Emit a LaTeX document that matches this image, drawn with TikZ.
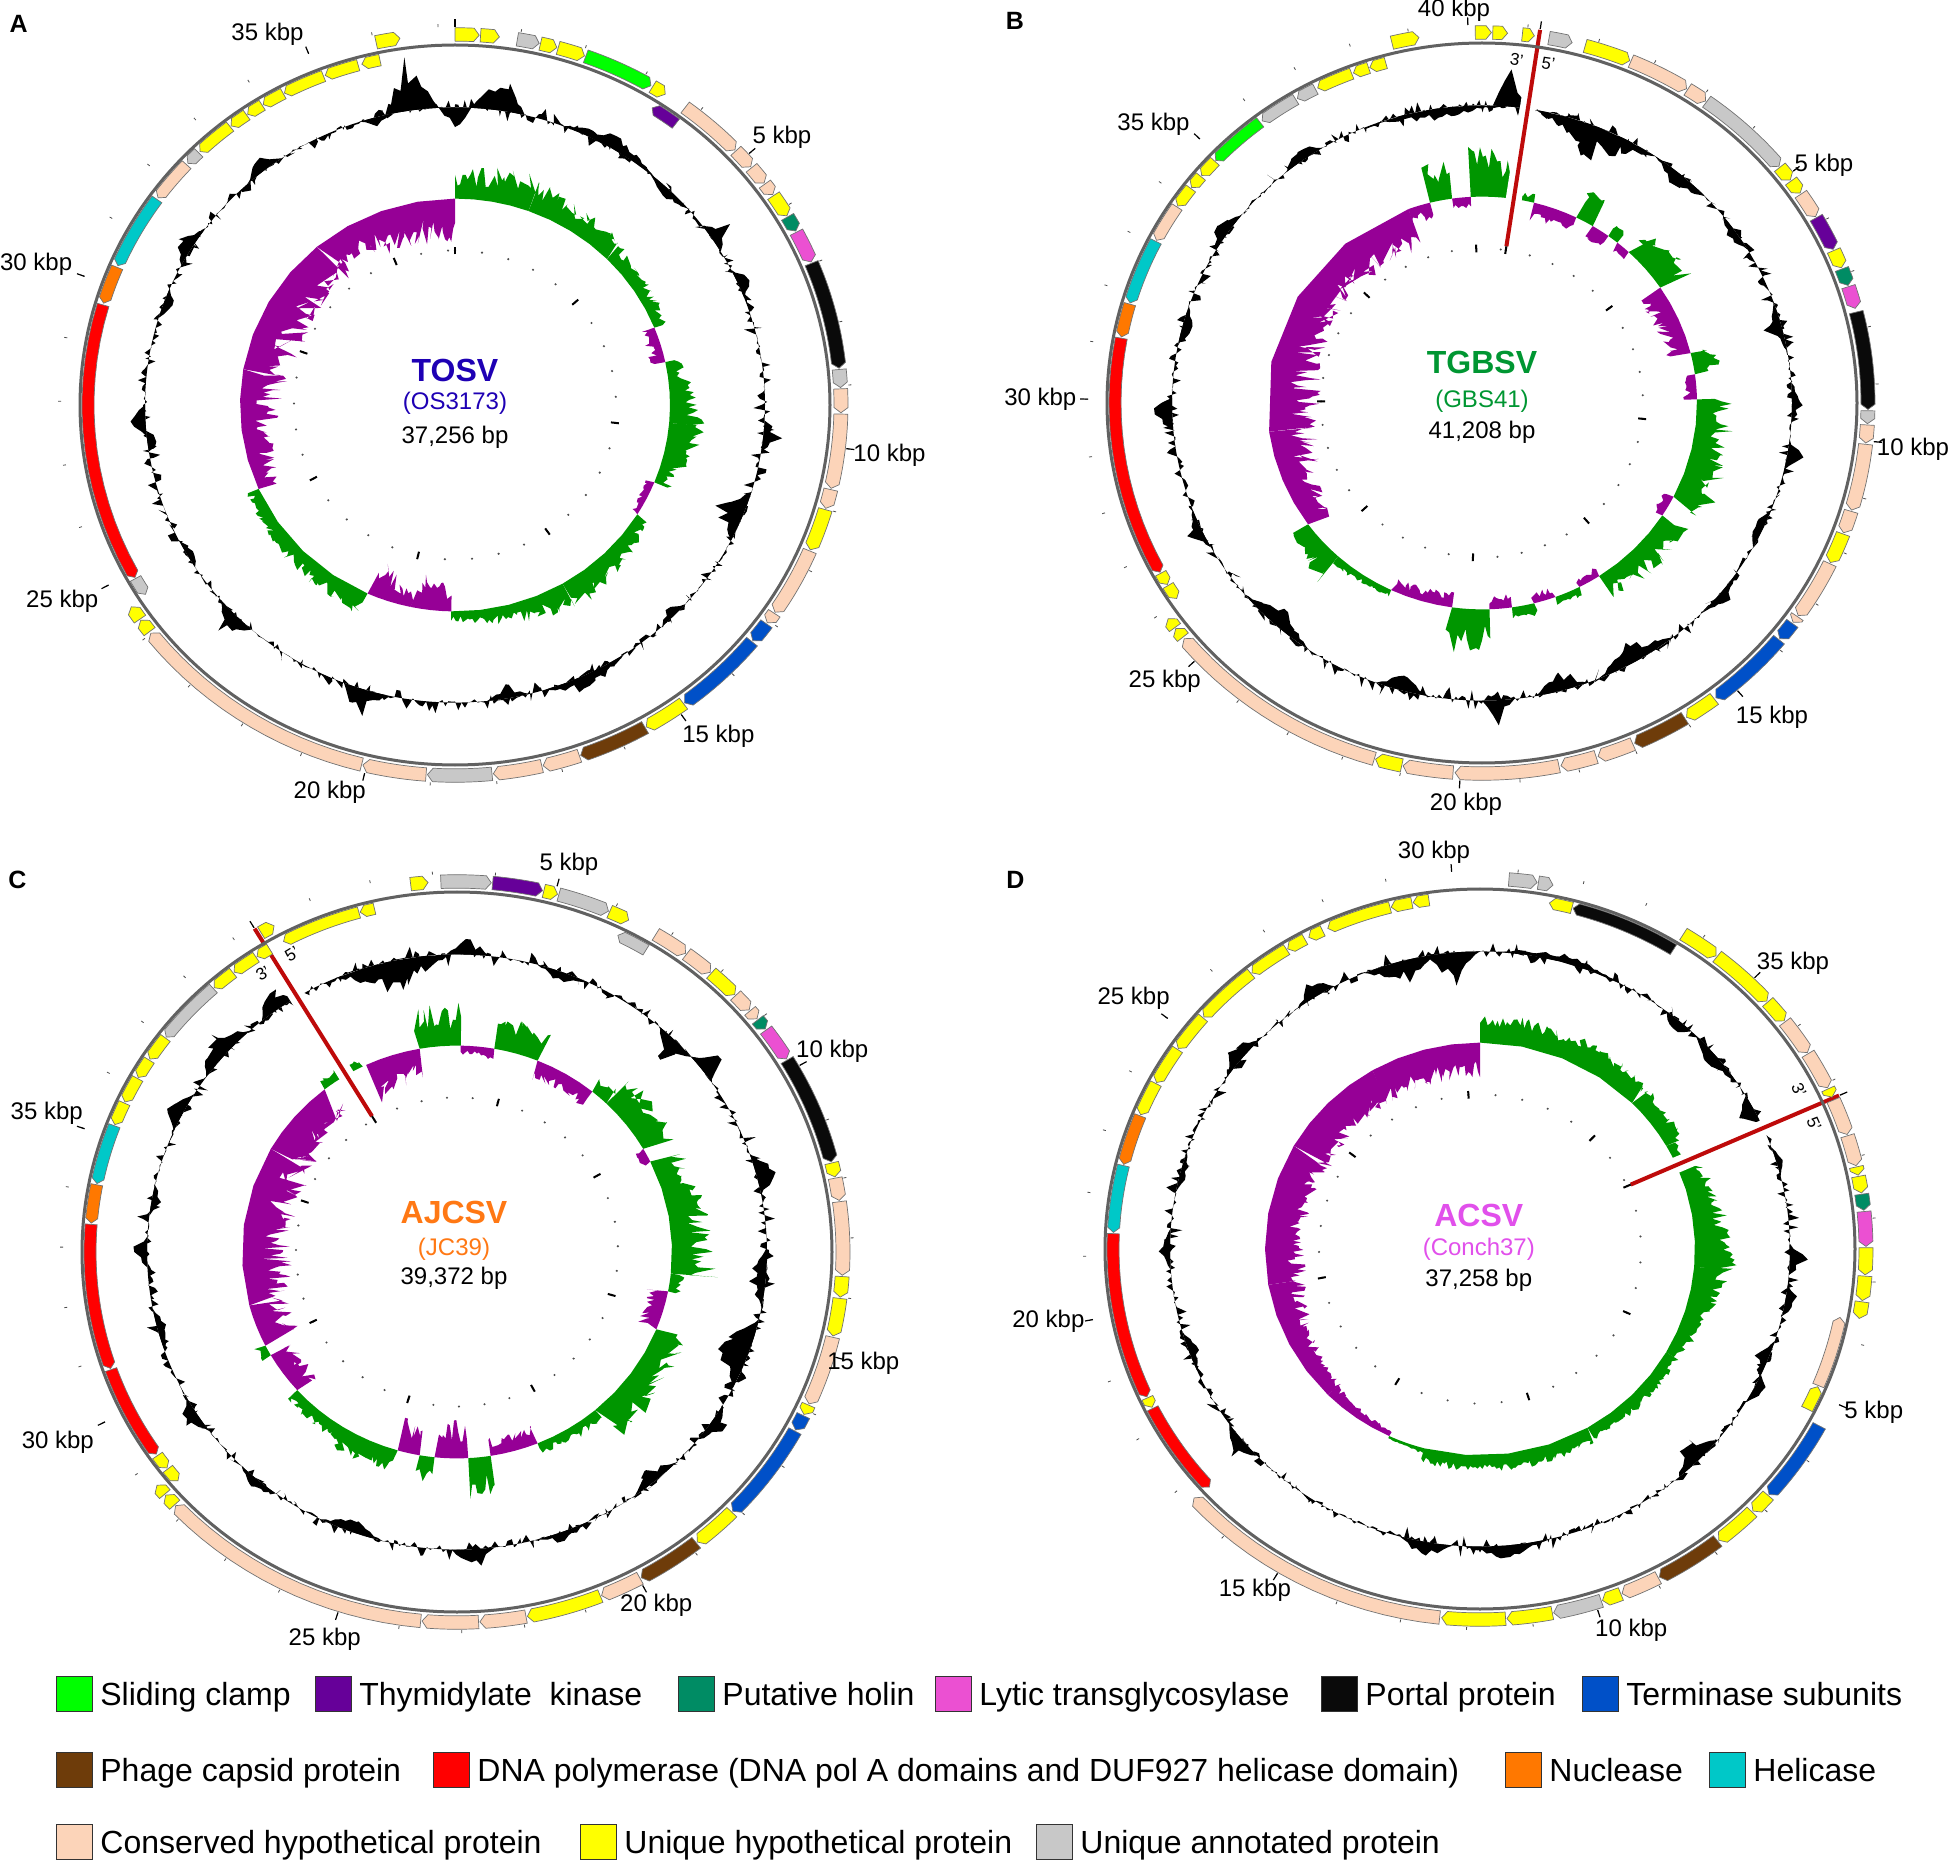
\documentclass[tikz,border=0pt]{standalone}
\usepackage{fontspec}
\setmainfont{Liberation Sans}
\definecolor{cgreen}{RGB}{0,255,0}
\definecolor{cpurp}{RGB}{102,0,153}
\definecolor{cholin}{RGB}{0,140,100}
\definecolor{clytic}{RGB}{235,80,210}
\definecolor{cportal}{RGB}{10,10,10}
\definecolor{cterm}{RGB}{0,80,200}
\definecolor{ccaps}{RGB}{110,60,10}
\definecolor{cpol}{RGB}{255,0,0}
\definecolor{cnuc}{RGB}{255,120,0}
\definecolor{chel}{RGB}{0,200,200}
\definecolor{ccons}{RGB}{252,212,185}
\definecolor{cuniq}{RGB}{255,255,0}
\definecolor{cgray}{RGB}{200,200,200}
\definecolor{skg}{RGB}{0,150,0}
\definecolor{skp}{RGB}{150,0,150}
\definecolor{redc}{RGB}{190,10,10}
\definecolor{tA}{RGB}{30,0,180}
\definecolor{tB}{RGB}{0,150,50}
\definecolor{tC}{RGB}{255,120,20}
\definecolor{tD}{RGB}{225,80,235}
\tikzset{
  gbox/.style={draw=black!55, line width=0.35pt},
  gcirc/.style={draw=black!62, line width=1.5pt},
  mtick/.style={draw=black, line width=0.6pt},
  ntick/.style={draw=black!70, line width=0.4pt},
  itick/.style={draw=black, line width=1pt},
  redl/.style={draw=redc, line width=2pt},
  gapl/.style={draw=white, line width=8pt},
  klab/.style={font=\fontsize{12}{14}\selectfont, inner sep=0pt},
  tname/.style={font=\fontsize{16}{19}\selectfont\bfseries, inner sep=0pt},
  tsub/.style={font=\fontsize{12}{14}\selectfont, inner sep=0pt},
  plab/.style={font=\fontsize{12.5}{15}\selectfont\bfseries, inner sep=0pt},
  primelab/.style={font=\fontsize{8.5}{10}\selectfont, inner sep=0pt},
  lgbox/.style={draw=black!80, line width=0.5pt},
  lgtext/.style={font=\fontsize{16}{19}\selectfont, inner sep=0pt, anchor=base west},
}
% outer (forward) gene, arrow clockwise
\newcommand\gO[3]{%
  \pgfmathsetmacro\ga{#1-90}\pgfmathsetmacro\gb{#2-90}%
  \pgfmathsetmacro\gt{max(\ga,\gb-0.8)}%
  \filldraw[gbox,fill=#3] plot[domain=\ga:\gt,samples=16] (\x:379) -- (\gb:386)
     -- plot[domain=\gt:\ga,samples=16] (\x:393) -- cycle;}
% inner (reverse) gene, arrow counter-clockwise
\newcommand\gI[3]{%
  \pgfmathsetmacro\ga{#1-90}\pgfmathsetmacro\gb{#2-90}%
  \pgfmathsetmacro\gt{min(\gb,\ga+0.8)}%
  \filldraw[gbox,fill=#3] (\ga:367) -- plot[domain=\gt:\gb,samples=16] (\x:373)
     -- plot[domain=\gb:\gt,samples=16] (\x:361) -- cycle;}
\newcommand\rticks[2]{%
  \pgfmathtruncatemacro\nk{floor(#2)}%
  \foreach \k in {0,...,\nk}{%
    \pgfmathsetmacro\ph{#1+\k*360/#2-90}%
    \draw[ntick] (\ph:394) -- (\ph:397);
    \fill[black!70] (\ph:161) circle[radius=0.6pt];
  }%
  \foreach \k in {0,5,...,\nk}{%
    \pgfmathsetmacro\ph{#1+\k*360/#2-90}%
    \draw[mtick] (\ph:394) -- (\ph:402);
    \draw[itick] (\ph:157) -- (\ph:165);
  }}
% GC skew segment: lo hi startval endval colour ; jitter in \jm
\newcommand\jm{0.45}
\newcommand\skewseg[5]{%
  \pgfmathtruncatemacro\ns{max(4,1.7*(#2-(#1)))}%
  \fill[#5] plot[domain=#1:#2,samples=\ns] ({\x-90}:{215+(#3+(#4-(#3))*(\x-(#1))/(#2-(#1)))*(1-\jm+2*\jm*rnd)})
     -- plot[domain=#2:#1,samples=5] ({\x-90}:215) -- cycle;}
% GC content: hairy band around baseline
\newcommand\gcband[2]{%
  \fill[black,even odd rule] plot[domain=#1:#2,samples=601] ({\x-90}:{310+13*(2*rnd-1)*rnd}) -- cycle
     plot[domain=0:360,samples=241] (\x:310) -- cycle;}
% GC content spike: centre halfwidth height
\newcommand\gcspike[3]{%
  \pgfmathtruncatemacro\ns{max(6,2.5*#2)}%
  \fill[black] plot[domain=#1-#2:#1+#2,samples=\ns] ({\x-90}:{310+#3*(1-abs(\x-(#1))/#2)*(0.5+0.9*rnd)})
     -- plot[domain=#1+#2:#1-#2,samples=5] ({\x-90}:310) -- cycle;}
\newcommand\originline[1]{%
  \draw[gapl] ({#1-90}:150) -- ({#1-90}:358);
  \draw[redl] ({#1-90}:165) -- ({#1-90}:393);}
\begin{document}
\begin{tikzpicture}[x=0.5pt,y=-0.5pt]
\useasboundingbox (0,0) rectangle (1950,1861);
\pgfmathsetseed{4321}

% ================= Panel A =================
\begin{scope}[shift={(455,405)},yscale=0.96]
  \foreach \sa/\sb/\su/\sv/\sc in {0/20/22/28/skg,20/45/25/18/skg,45/68/15/10/skg,68/78/-10/-12/skp,78/95/10/28/skg,95/112/28/12/skg,112/122/-8/-5/skp,122/150/10/25/skg,150/181/22/8/skg,181/192/-20/-30/skp,192/204/-10/-30/skp,204/246/18/10/skg,246/280/-15/-35/skp,280/320/-38/-35/skp,320/360/-30/-32/skp}{\skewseg{\sa}{\sb}{\su}{\sv}{\sc}}
  \gcband{0}{360}
  \foreach \sa/\sb/\sc in {352/5/45,8/5/45,0/3/-22,30/10/12,44/5/-10,56/3/20,66/3/12,96/3/18,112/5/-25,135/3/-12,155/8/15,170/4/-12,197/4/30,225/4/20,240/3/-10,267/3/22,263/2/-15,290/3/-12,302/4/15,322/4/12,345/3/-8}{\gcspike{\sa}{\sb}{\sc}}
  \draw[gcirc] plot[domain=0:360,samples=241] (\x:375) -- cycle;
  \foreach \sa/\sb/\sc in {0/3.6/cuniq,3.8/6.6/cuniq,9.3/12.6/cgray,12.8/15.3/cuniq,15.5/19.6/cuniq,19.8/30.5/cgreen,30.8/33/cuniq,36.6/46.5/ccons,46.7/50/ccons,50.2/53.2/ccons,53.4/55.4/ccons,55.6/59.3/cuniq,59.5/62/cholin,62.2/67.3/clytic,67.5/84.3/cportal,84.5/87.3/cgray,87.5/91.2/ccons,91.4/103/ccons,103.2/106.2/ccons,106.4/113/cuniq,113.2/124/ccons,124.2/126/ccons,126.2/129.5/cterm,129.7/143.5/cterm,143.7/150.3/cuniq,150.5/161/ccaps,161.2/166.8/ccons,167/174.3/ccons,174.5/184.1/cgray,184.3/193.8/ccons,194/232/ccons,232.3/234.5/cuniq,234.7/237/cuniq,348.2/351.8/cuniq}{\gO{\sa}{\sb}{\sc}}
  \foreach \sa/\sb/\sc in {32.5/37/cpurp,237.5/240.5/cgray,240.7/286.5/cpol,286.8/293/cnuc,293.3/305.7/chel,306/313/ccons,313.3/315.7/cgray,316/322.2/cuniq,322.4/325.4/cuniq,325.6/328.3/cuniq,328.5/332.1/cuniq,332.3/339/cuniq,339.3/344.7/cuniq,345.3/348.2/cuniq}{\gI{\sa}{\sb}{\sc}}
  \rticks{0}{37.256}
\end{scope}
\node[plab] (pA) at (18.7,23.6) {A};
\node[tname,text=tA] (nA) at (455,370) {TOSV};
\node[tsub,text=tA] (sA) at (455,403) {(OS3173)};
\node[tsub] (bA) at (455,437) {37,256 bp};
\node[klab] (kA5) at (782,137) {5 kbp};
\node[klab] (kA10) at (889.5,455) {10 kbp};
\node[klab] (kA15) at (718.4,736) {15 kbp};
\node[klab] (kA20) at (329.7,792) {20 kbp};
\node[klab] (kA25) at (62.2,601.6) {25 kbp};
\node[klab] (kA30) at (36.1,264.6) {30 kbp};
\node[klab] (kA35) at (267.5,34) {35 kbp};

% ================= Panel B =================
\begin{scope}[shift={(1482,403)},yscale=0.96]
  \foreach \sa/\sb/\su/\sv/\sc in {8.5/14/5/8/skg,14/26/-15/-10/skp,26/31/20/28/skg,31/36/-15/-10/skp,36/39/10/12/skg,39/43/-10/-8/skp,43/56/18/30/skg,56/76/-20/-18/skp,76/82/18/20/skg,82/89/-12/-10/skp,89/117/25/30/skg,117/123/-8/-8/skp,123/147/25/20/skg,147/153/-8/-6/skp,153/160/8/6/skg,160/166/-8/-10/skp,166/172/10/8/skg,172/178/-10/-10/skp,178/188/30/35/skg,188/205/-12/-10/skp,205/222/5/8/skg,222/234/25/15/skg,234/262/-20/-35/skp,262/340/-38/-30/skp,340/346/-10/-15/skp,346/352/30/30/skg,352/357/-8/-8/skp,357/368.5/38/35/skg}{\skewseg{\sa}{\sb}{\su}{\sv}{\sc}}
  \gcband{8.5}{368.5}
  \foreach \sa/\sb/\sc in {365/3/40,352/12/-12,22/12/-28,40/6/-15,55/4/-10,75/5/-15,90/4/10,100/3/12,115/4/-12,130/5/10,150/8/-18,165/5/-20,177/3/20,195/5/-15,222/8/-15,245/4/15,268/3/25,285/4/-10,305/4/15,325/4/15}{\gcspike{\sa}{\sb}{\sc}}
  \originline{8.5}
  \draw[gcirc] plot[domain=0:360,samples=241] (\x:375) -- cycle;
  \foreach \sa/\sb/\sc in {346.5/350.6/cuniq,359/361.4/cuniq,361.6/363.8/cuniq,6/7.8/cuniq,10/13.5/cgray,15.5/22.5/cuniq,22.7/32/ccons,32.2/35.4/ccons,35.6/50.3/cgray,50.5/53/cuniq,53.2/55.5/cuniq,55.7/59.8/ccons,60/65.5/cpurp,65.7/68.6/cuniq,68.8/71.5/cholin,71.7/75.2/clytic,75.8/91/cportal,91.2/93.2/cgray,93.4/96.2/ccons,96.4/106.8/ccons,107/110.5/ccons,110.7/115.5/cuniq,115.7/125/ccons,125.2/126.3/ccons,126.5/129.5/cterm,129.7/142.7/cterm,143/148/cuniq,148.3/156.7/ccaps,157/162.5/ccons,162.8/168.2/ccons,168.5/184/ccons,184.3/191.8/ccons,192/196/cuniq,196.2/230.5/ccons,230.8/232.5/cuniq,232.7/234.4/cuniq}{\gO{\sa}{\sb}{\sc}}
  \foreach \sa/\sb/\sc in {236.3/238.8/cuniq,239/241.1/cuniq,241.3/280.6/cpol,280.8/286.3/cnuc,286.5/297.3/chel,297.5/303.8/ccons,304/307.5/cuniq,307.7/310/cuniq,310.2/313.3/cuniq,313.5/322.8/cgreen,323.2/329.5/cgray,329.8/333/cgray,333.4/339.2/cuniq,339.5/342/cuniq,342.2/344.8/cuniq}{\gI{\sa}{\sb}{\sc}}
  \rticks{8.5}{41.208}
\end{scope}
\node[plab] (pB) at (1015,21) {B};
\node[tname,text=tB] (nB) at (1482,362) {TGBSV};
\node[tsub,text=tB] (sB) at (1482,401) {(GBS41)};
\node[tsub] (bB) at (1482,432) {41,208 bp};
\node[primelab,rotate=-8.5] (tB3) at (1516.7,60) {3'};
\node[primelab,rotate=-8.5] (tB5) at (1548.3,63.3) {5'};
\node[klab] (kB5) at (1824,165) {5 kbp};
\node[klab] (kB10) at (1913,449.6) {10 kbp};
\node[klab] (kB15) at (1772,716.8) {15 kbp};
\node[klab] (kB20) at (1466,804) {20 kbp};
\node[klab] (kB25) at (1164.7,681) {25 kbp};
\node[klab] (kB30) at (1040.3,399.3) {30 kbp};
\node[klab] (kB35) at (1153.5,124.7) {35 kbp};
\node[klab] (kB40) at (1454,10) {40 kbp};

% ================= Panel C =================
\begin{scope}[shift={(457,1252)},yscale=0.96]
  \foreach \sa/\sb/\su/\sv/\sc in {-31/-26/8/8/skg,-25/-10/-30/-25/skp,-10/1/30/32/skg,1/10/-8/-8/skp,10/22/25/25/skg,22/39/-15/-15/skp,39/44/12/15/skg,44/60/25/30/skg,60/64/-8/-8/skp,64/96/25/35/skg,96/101/10/10/skg,101/112/-15/-15/skp,112/140/25/30/skg,140/158/12/8/skg,158/171/-15/-15/skp,171/177/30/30/skg,177/186/-30/-30/skp,186/190/20/20/skg,190/196/-25/-25/skp,196/212/18/18/skg,212/228/12/12/skg,228/240/-20/-20/skp,240/243/10/10/skg,243/255/-30/-30/skp,255/300/-35/-35/skp,300/322/-35/-30/skp,322/329/8/8/skg}{\skewseg{\sa}{\sb}{\su}{\sv}{\sc}}
  \gcband{-31}{329}
  \foreach \sa/\sb/\sc in {325/4/20,312/6/25,298/4/15,-12/11/-28,2/4/15,20/5/-10,45/4/-20,52/3/25,75/4/20,95/6/-15,110/7/-30,125/4/15,140/5/-15,160/5/10,177/4/22,200/6/-12,220/4/10,237/4/15,255/4/-10,270/3/15,280/3/-12}{\gcspike{\sa}{\sb}{\sc}}
  \originline{-31}
  \draw[gcirc] plot[domain=0:360,samples=241] (\x:375) -- cycle;
  \foreach \sa/\sb/\sc in {353.1/355.7/cuniq,357.6/365.1/cgray,365.3/372.8/cpurp,13/15.1/cuniq,15.3/23.1/cgray,23.3/26.4/cuniq,31/36.3/ccons,36.5/41/ccons,41.2/46/cuniq,46.2/49.2/ccons,49.4/51/ccons,51.2/53/cholin,53.2/58.6/clytic,58.8/75.9/cportal,76.1/78.3/cuniq,78.5/82/ccons,82.2/93.6/ccons,93.8/97/cuniq,97.2/103.1/cuniq,103.3/114.2/ccons,114.4/116/cuniq,116.2/118.7/cterm,118.9/134.4/cterm,134.6/141.5/cuniq,141.7/151.5/ccaps,151.7/158/ccons,158.2/169.5/cuniq,169.7/176.6/ccons,176.8/185.2/ccons,185.4/226.8/ccons,227/229/cuniq,229.2/231/cuniq,329.5/331.7/cuniq}{\gO{\sa}{\sb}{\sc}}
  \foreach \sa/\sb/\sc in {26/31/cgray,229.5/232/cuniq,232.2/234.7/cuniq,235/250.5/cpol,250.7/274.5/cpol,274.7/281/cnuc,281.2/291/chel,291.2/295/cuniq,295.2/299.5/cuniq,299.7/303/cuniq,303.2/307.4/cuniq,307.6/318.4/cgray,318.6/322.4/cuniq,322.6/326.8/cuniq,327/329.3/cuniq,331.8/344.5/cuniq,344.7/347/cuniq}{\gI{\sa}{\sb}{\sc}}
  \rticks{-31}{39.372}
\end{scope}
\node[plab] (pC) at (17.4,880) {C};
\node[tname,text=tC] (nC) at (454,1212.5) {AJCSV};
\node[tsub,text=tC] (sC) at (454,1249) {(JC39)};
\node[tsub] (bC) at (454,1278) {39,372 bp};
\node[primelab,rotate=31] (tC3) at (263,973.5) {3'};
\node[primelab,rotate=31] (tC5) at (292,953.7) {5'};
\node[klab] (kC5) at (569,864) {5 kbp};
\node[klab] (kC10) at (832.2,1051) {10 kbp};
\node[klab] (kC15) at (863.3,1363.4) {15 kbp};
\node[klab] (kC20) at (656.2,1605.5) {20 kbp};
\node[klab] (kC25) at (324.7,1639.6) {25 kbp};
\node[klab] (kC30) at (57.8,1442) {30 kbp};
\node[klab] (kC35) at (46.7,1113) {35 kbp};

% ================= Panel D =================
\renewcommand\jm{0.3}
\begin{scope}[shift={(1480,1249)},yscale=0.96]
  \foreach \sa/\sb/\su/\sv/\sc in {66/95/18/34/skg,95/120/30/12/skg,120/150/12/12/skg,150/195/15/12/skg,195/205/5/2/skg,205/225/-5/-12/skp,225/260/-15/-30/skp,260/300/-30/-35/skp,300/330/-35/-32/skp,330/360/-30/-28/skp,360/405/24/20/skg,405/420/18/15/skg,420/426/10/8/skg}{\skewseg{\sa}{\sb}{\su}{\sv}{\sc}}
  \gcband{66}{426}
  \foreach \sa/\sb/\sc in {345/7/-20,355/5/-28,15/12/8,40/3/-15,50/6/-12,62/3/-20,73/3/8,92/3/15,100/3/12,112/4/-12,118/3/12,135/5/-25,175/8/12,190/5/15,230/4/20,250/4/-10,270/4/10,285/4/-8,310/5/15,328/4/15}{\gcspike{\sa}{\sb}{\sc}}
  \originline{66}
  \draw[gcirc] plot[domain=0:360,samples=241] (\x:375) -- cycle;
  \foreach \sa/\sb/\sc in {4.3/8.5/cgray,8.7/10.9/cgray,31.8/37.7/cuniq,37.9/48/cuniq,48.2/52/cuniq,52.2/58/ccons,58.2/64.2/ccons,64.4/65.8/cuniq,66.3/72/ccons,72.2/77/ccons,77.2/78.5/cuniq,78.7/81.3/cuniq,81.5/84/cholin,84.2/89.6/clytic,89.8/94/cuniq,94.2/98/cuniq,98.2/100.8/cuniq,118.5/131.5/cterm,131.7/135/cuniq,135.2/141.8/cuniq,142/152.3/ccaps,152.5/158.4/ccons,158.6/161.5/cuniq,161.7/169/cgray,169.2/176/cuniq,176.2/185.7/cuniq,186/227.8/ccons}{\gO{\sa}{\sb}{\sc}}
  \foreach \sa/\sb/\sc in {10.9/14.5/cuniq,14.7/31.8/cportal,101.2/112.8/ccons,113/117/cuniq,227.5/243.1/cpol,243.3/245/cuniq,245.2/272.5/cpol,272.7/283.7/chel,283.9/292.2/cnuc,292.4/298/cuniq,298.2/304.5/cuniq,304.7/311/cuniq,311.2/321.4/cuniq,321.6/328.2/cuniq,328.4/331.5/cuniq,332.2/334.6/cuniq,335.5/345.8/cuniq,346/349.3/cuniq,349.5/352/cuniq}{\gI{\sa}{\sb}{\sc}}
  \rticks{66}{37.258}
\end{scope}
\node[plab] (pD) at (1015.4,880) {D};
\node[tname,text=tD] (nD) at (1478.8,1215) {ACSV};
\node[tsub,text=tD] (sD) at (1478.8,1249) {(Conch37)};
\node[tsub] (bD) at (1478.8,1280.6) {37,258 bp};
\node[primelab,rotate=-66] (tD3) at (1799,1090) {3'};
\node[primelab,rotate=-66] (tD5) at (1814,1124) {5'};
\node[klab] (kD5) at (1873.8,1412.7) {5 kbp};
\node[klab] (kD10) at (1631.2,1630.7) {10 kbp};
\node[klab] (kD15) at (1254.9,1589.8) {15 kbp};
\node[klab] (kD20) at (1048.4,1321.5) {20 kbp};
\node[klab] (kD25) at (1133.6,998.7) {25 kbp};
\node[klab] (kD30) at (1434,852) {30 kbp};
\node[klab] (kD35) at (1793,963.6) {35 kbp};

% ================= Legend =================
\foreach \lx/\ly/\lc/\lt in {56/1694/cgreen/{Sliding clamp},315/1694/cpurp/{Thymidylate\ \ kinase},678/1694/cholin/{Putative holin},935/1694/clytic/{Lytic transglycosylase},1321/1694/cportal/{Portal protein},1582/1694/cterm/{Terminase subunits},56/1770/ccaps/{Phage capsid protein},433/1770/cpol/{DNA polymerase (DNA pol A domains and DUF927 helicase domain)},1505/1770/cnuc/{Nuclease},1709/1770/chel/{Helicase},56/1842/ccons/{Conserved hypothetical protein},580/1842/cuniq/{Unique hypothetical protein},1036/1842/cgray/{Unique annotated protein}}{
  \draw[lgbox,fill=\lc] (\lx,\ly-17.5) rectangle (\lx+36,\ly+17.5);
  \node[lgtext] (lg\lc) at (\lx+44,\ly+11.5) {\lt};
}
\end{tikzpicture}
\end{document}
